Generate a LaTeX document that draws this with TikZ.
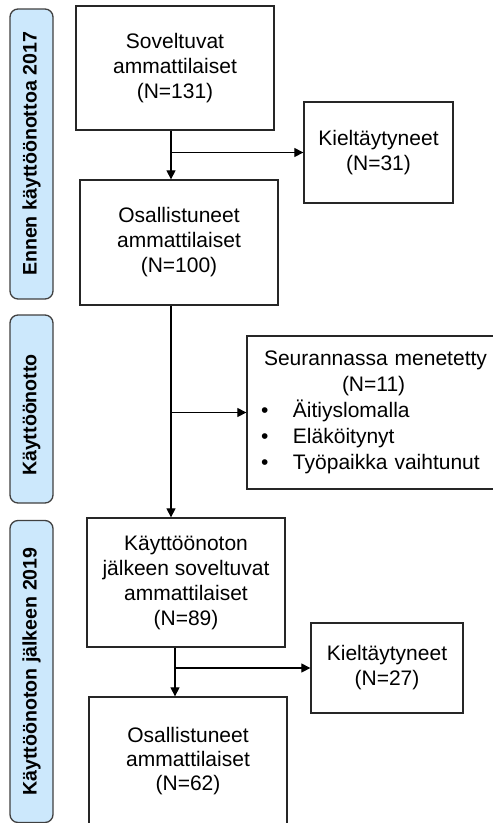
\documentclass[tikz,border=0pt]{standalone}
\usepackage{fontspec}
\setmainfont{Liberation Sans}
\usetikzlibrary{arrows.meta}
\definecolor{lblfill}{HTML}{CCE8FC}
\definecolor{lbldraw}{HTML}{404040}
\begin{document}
\begin{tikzpicture}[x=1pt,y=-1pt,
  box/.style={draw=black!85,line width=1.3pt,rectangle,inner sep=0pt,align=center,
    font=\fontsize{21}{25}\selectfont},
  lbl/.style={draw=lbldraw,fill=lblfill,line width=1.3pt,rounded corners=8pt,rotate=90,
    inner sep=0pt,minimum height=43pt,font=\fontsize{19.6}{24}\selectfont\bfseries},
  arr/.style={line width=1.2pt,-{Triangle[length=9pt,width=9pt]}},
  ln/.style={line width=1.2pt}]
\useasboundingbox (0,0) rectangle (493,823);
\clip (0,0) rectangle (493,823);
% side labels
\node[lbl,minimum width=290pt] (L1) at (31.5,154) {Ennen käyttöönottoa 2017};
\node[lbl,minimum width=188pt] (L2) at (31.5,409) {Käyttöönotto\hspace*{12pt}};
\node[lbl,minimum width=302pt] (L3) at (31.5,671.5) {Käyttöönoton jälkeen 2019};
% boxes
\node[box,minimum width=198pt,minimum height=124pt] (A) at (175,68) {Soveltuvat\\ammattilaiset\\(N=131)};
\node[box,minimum width=149pt,minimum height=101pt] (K1) at (378.5,152.5) {Kieltäytyneet\\(N=31)};
\node[box,minimum width=198pt,minimum height=125pt] (B) at (179,242.5) {Osallistuneet\\ammattilaiset\\(N=100)};
\node[box,minimum width=251pt,minimum height=153pt,align=left,text width=251pt,inner xsep=0pt,
  font=\fontsize{21}{26}\selectfont] (S) at (372.5,412.5)
  {\hspace*{17pt}Seurannassa menetetty\\
   \hspace*{95pt}(N=11)\\
   \hspace*{14pt}\makebox[32pt][l]{•}Äitiyslomalla\\
   \hspace*{14pt}\makebox[32pt][l]{•}Eläköitynyt\\
   \hspace*{14pt}\makebox[32pt][l]{•}Työpaikka vaihtunut};
\node[box,minimum width=198pt,minimum height=129pt] (C) at (186,582.5) {Käyttöönoton\\jälkeen soveltuvat\\ammattilaiset\\(N=89)};
\node[box,minimum width=152pt,minimum height=90pt] (K2) at (387,668) {Kieltäytyneet\\(N=27)};
\node[box,minimum width=198pt,minimum height=128pt,font=\fontsize{21}{24}\selectfont] (D) at (188,761) {Osallistuneet\\ammattilaiset\\(N=62)};
% connectors
\coordinate (xa) at (171,0);
\coordinate (xc) at (175,0);
\draw[arr] (A.south -| xa) -- (B.north -| xa);
\draw[arr] (K1.west -| xa) -- (K1.west);
\draw[arr] (B.south -| xa) -- (C.north -| xa);
\draw[arr] (S.west -| xa) -- (S.west);
\draw[arr] (C.south -| xc) -- (D.north -| xc);
\draw[arr] (K2.west -| xc) -- (K2.west);
\end{tikzpicture}
\end{document}
